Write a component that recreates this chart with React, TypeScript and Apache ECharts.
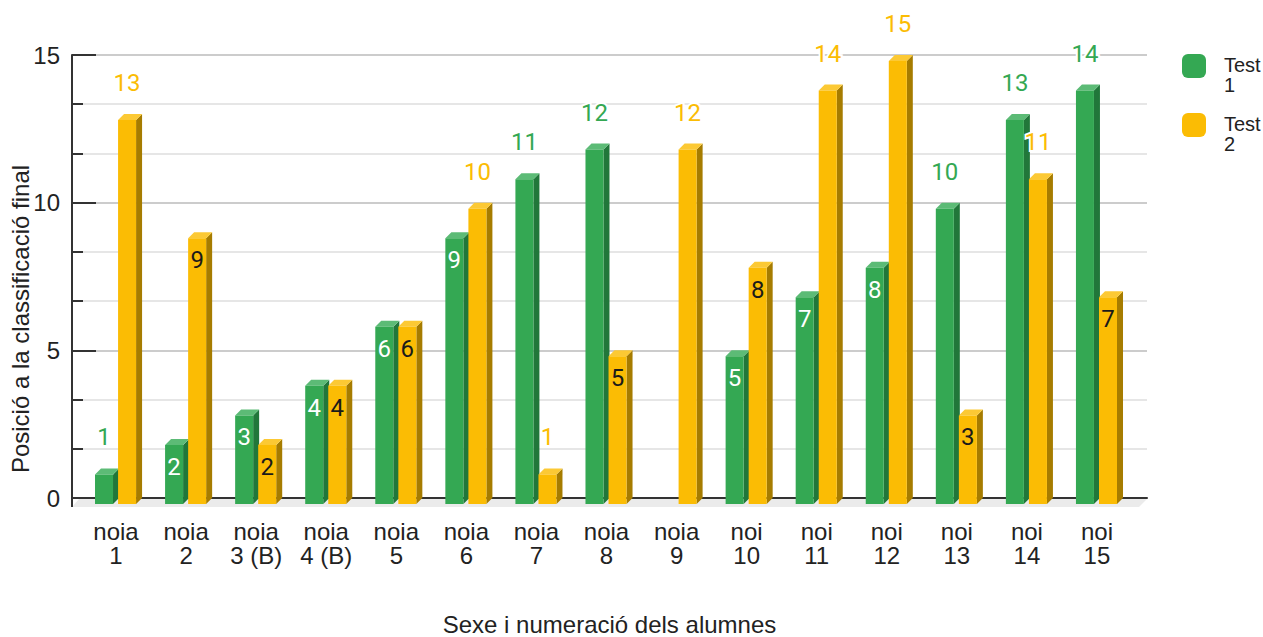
import React, { useEffect, useRef } from "react";
import * as echarts from "echarts";

// Students (category axis) and their final position in each test
const categories = [
  "noia 1", "noia 2", "noia 3 (B)", "noia 4 (B)", "noia 5", "noia 6", "noia 7", "noia 8",
  "noia 9", "noi 10", "noi 11", "noi 12", "noi 13", "noi 14", "noi 15",
];
const test1: (number | null)[] = [1, 2, 3, 4, 6, 9, 11, 12, null, 5, 7, 8, 10, 13, 14];
const test2: (number | null)[] = [13, 9, 2, 4, 6, 10, 1, 5, 12, 8, 14, 15, 3, 11, 7];
const seriesNames = ["Test 1", "Test 2"];

const yMin = 0;
const yMax = 15;
const yInterval = 5;

const xTitle = "Sexe i numeració dels alumnes";
const yTitle = "Posició a la classificació final";

const AXIS_FONT = "'Liberation Sans', Arial, sans-serif";
const LABEL_FONT = "Roboto, 'Noto Sans', sans-serif";
const DEPTH = 6;

type Palette = { front: string; side: string; top: string; outside: string; inside: string };

const green: Palette = { front: "#34a853", side: "#21773a", top: "#5cbb76", outside: "#34a853", inside: "#ffffff" };
const yellow: Palette = { front: "#fbbc04", side: "#a67c00", top: "#fcc934", outside: "#fbbc04", inside: "#1a1a1a" };

const toPoints = (vals: (number | null)[]) =>
  vals.flatMap((v, i) => (v == null ? [] : [[i, v]]));

// Draws a pseudo-3D column: front face, right side face, top cap and value label
function columnRenderer(pal: Palette, leftFrac: number, rightFrac: number) {
  return (_params: any, api: any) => {
    const idx = api.value(0);
    const v = api.value(1);
    if (v == null || isNaN(v)) return null;
    const base = api.coord([idx, 0]);
    const head = api.coord([idx, v]);
    const band = api.size([1, 0])[0];
    const x0 = base[0] + band * leftFrac;
    const x1 = base[0] + band * rightFrac;
    const yb = base[1];
    const yt = head[1];
    const d = DEPTH;
    const cx = (x0 + x1) / 2;
    const inside = v >= 2 && v <= 9;
    return {
      type: "group",
      children: [
        {
          type: "polygon",
          shape: { points: [[x1, yt + d], [x1 + d, yt], [x1 + d, yb], [x1, yb + d]] },
          style: { fill: pal.side },
        },
        {
          type: "polygon",
          shape: { points: [[x0, yt + d], [x0 + d, yt], [x1 + d, yt], [x1, yt + d]] },
          style: { fill: pal.top },
        },
        {
          type: "rect",
          shape: { x: x0, y: yt + d, width: x1 - x0, height: yb - yt },
          style: { fill: pal.front },
        },
        {
          type: "text",
          x: cx,
          y: inside ? yt + d + 22 : yt - 31,
          z2: 10,
          style: inside
            ? {
                text: String(v),
                fill: pal.inside,
                fontSize: 24,
                fontFamily: LABEL_FONT,
                align: "center",
                verticalAlign: "middle",
              }
            : {
                text: String(v),
                fill: pal.outside,
                fontSize: 24,
                fontFamily: LABEL_FONT,
                align: "center",
                verticalAlign: "middle",
                stroke: "#ffffff",
                lineWidth: 4,
              },
        },
      ],
    };
  };
}

// Light floor strip under the baseline plus the short axis stub below it
function floorRenderer(_params: any, api: any) {
  const l = api.coord([0, 0]);
  const r = api.coord([1, 0]);
  return {
    type: "group",
    children: [
      {
        type: "polygon",
        shape: { points: [[l[0] + 7, l[1] + 1], [r[0], r[1] + 1], [r[0] - 8, r[1] + 9], [l[0], l[1] + 9]] },
        style: { fill: "#ebebeb" },
      },
      {
        type: "line",
        shape: { x1: l[0], y1: l[1], x2: l[0], y2: l[1] + 9 },
        style: { stroke: "#333333", lineWidth: 2 },
      },
    ],
  };
}

// Legend text: "Test" above the number, top-aligned with the swatch
// (a blank spacer line pushes the two words down)
const legendText = (name: string) => {
  const [word, num] = name.split(" ");
  return `{s|\u00a0}\n{t|${word}}\n{t|${num}}`;
};

export default function App() {
  const ref = useRef<HTMLDivElement>(null);

  useEffect(() => {
    document.body.style.margin = "0";
    document.body.style.overflow = "hidden";
    if (!ref.current) return;
    const chart = echarts.init(ref.current, null, { renderer: "svg" });

    const option: any = {
      animation: false,
      backgroundColor: "#ffffff",
      grid: [
        { left: 72, right: 116, top: 55, bottom: 139, outerBoundsMode: "none" },
        { left: 81, width: 1051, top: 55, bottom: 139, outerBoundsMode: "none" },
        { left: 72, width: 10, top: 140, bottom: 139, outerBoundsMode: "none" },
      ],
      xAxis: [
        {
          gridIndex: 0,
          type: "value",
          position: "bottom",
          min: 0,
          max: 1,
          axisLine: { show: true, onZero: false, lineStyle: { color: "#333333", width: 2 } },
          axisTick: { show: false },
          axisLabel: { show: false },
          splitLine: { show: false },
          name: xTitle,
          nameLocation: "middle",
          nameGap: 117,
          nameTextStyle: { fontSize: 24, lineHeight: 18, color: "#222222", fontFamily: AXIS_FONT },
        },
        {
          gridIndex: 1,
          type: "category",
          position: "bottom",
          data: categories,
          axisLine: { show: false },
          axisTick: { show: false },
          axisLabel: {
            interval: 0,
            margin: 21,
            fontSize: 24,
            lineHeight: 24,
            color: "#222222",
            fontFamily: AXIS_FONT,
            formatter: (v: string) => v.replace(" ", "\n"),
          },
          splitLine: { show: false },
        },
        { gridIndex: 2, type: "value", show: false },
      ],
      yAxis: [
        {
          gridIndex: 0,
          type: "value",
          position: "left",
          min: yMin,
          max: yMax,
          interval: yInterval,
          z: 0,
          axisLine: { show: false },
          axisTick: { show: false },
          axisLabel: { show: false },
          minorTick: { show: false, splitNumber: 3 },
          splitLine: { show: true, lineStyle: { color: "#cccccc", width: 2 } },
          minorSplitLine: { show: true, lineStyle: { color: "#e6e6e6", width: 2 } },
        },
        {
          gridIndex: 0,
          type: "value",
          position: "left",
          offset: 0,
          min: yMin,
          max: yMax,
          interval: yInterval,
          z: 3,
          axisLine: { show: true, lineStyle: { color: "#333333", width: 2 } },
          axisTick: { show: true, inside: true, length: 24, lineStyle: { color: "#333333", width: 2 } },
          minorTick: { show: true, splitNumber: 3, length: 11, lineStyle: { color: "#333333", width: 2 } },
          axisLabel: { margin: 12, fontSize: 24, color: "#222222", fontFamily: AXIS_FONT },
          splitLine: { show: false },
        },
        { gridIndex: 1, type: "value", position: "left", min: yMin, max: yMax, show: false },
        {
          gridIndex: 2,
          type: "value",
          position: "left",
          axisLine: { show: false },
          axisTick: { show: false },
          axisLabel: { show: false },
          splitLine: { show: false },
          name: yTitle,
          nameLocation: "middle",
          nameGap: 40,
          nameTextStyle: { fontSize: 24, color: "#222222", fontFamily: AXIS_FONT },
        },
      ],
      legend: {
        data: seriesNames,
        orient: "vertical",
        left: 1182,
        top: 39,
        padding: 0,
        itemGap: 3,
        itemWidth: 24,
        itemHeight: 24,
        icon: "roundRect",
        selectedMode: false,
        formatter: legendText,
        textStyle: {
          color: "#222222",
          fontFamily: AXIS_FONT,
          rich: {
            s: { fontSize: 14, lineHeight: 18, color: "rgba(255,255,255,0)", padding: [0, 0, 0, 13] },
            t: { fontSize: 20, lineHeight: 20, color: "#222222", fontFamily: AXIS_FONT, padding: [0, 0, 0, 13] },
          },
        },
      },
      series: [
        {
          type: "custom",
          name: "floor",
          xAxisIndex: 0,
          yAxisIndex: 0,
          z: 1,
          silent: true,
          data: [[0, 0]],
          renderItem: floorRenderer,
        },
        {
          type: "custom",
          name: seriesNames[0],
          xAxisIndex: 1,
          yAxisIndex: 2,
          z: 4,
          itemStyle: { color: green.front },
          encode: { x: 0, y: 1 },
          data: toPoints(test1),
          renderItem: columnRenderer(green, -0.3, -0.043),
        },
        {
          type: "custom",
          name: seriesNames[1],
          xAxisIndex: 1,
          yAxisIndex: 2,
          z: 5,
          itemStyle: { color: yellow.front },
          encode: { x: 0, y: 1 },
          data: toPoints(test2),
          renderItem: columnRenderer(yellow, 0.029, 0.286),
        },
      ],
    };

    chart.setOption(option);
    return () => chart.dispose();
  }, []);

  return <div ref={ref} style={{ width: 1263, height: 637 }} />;
}
